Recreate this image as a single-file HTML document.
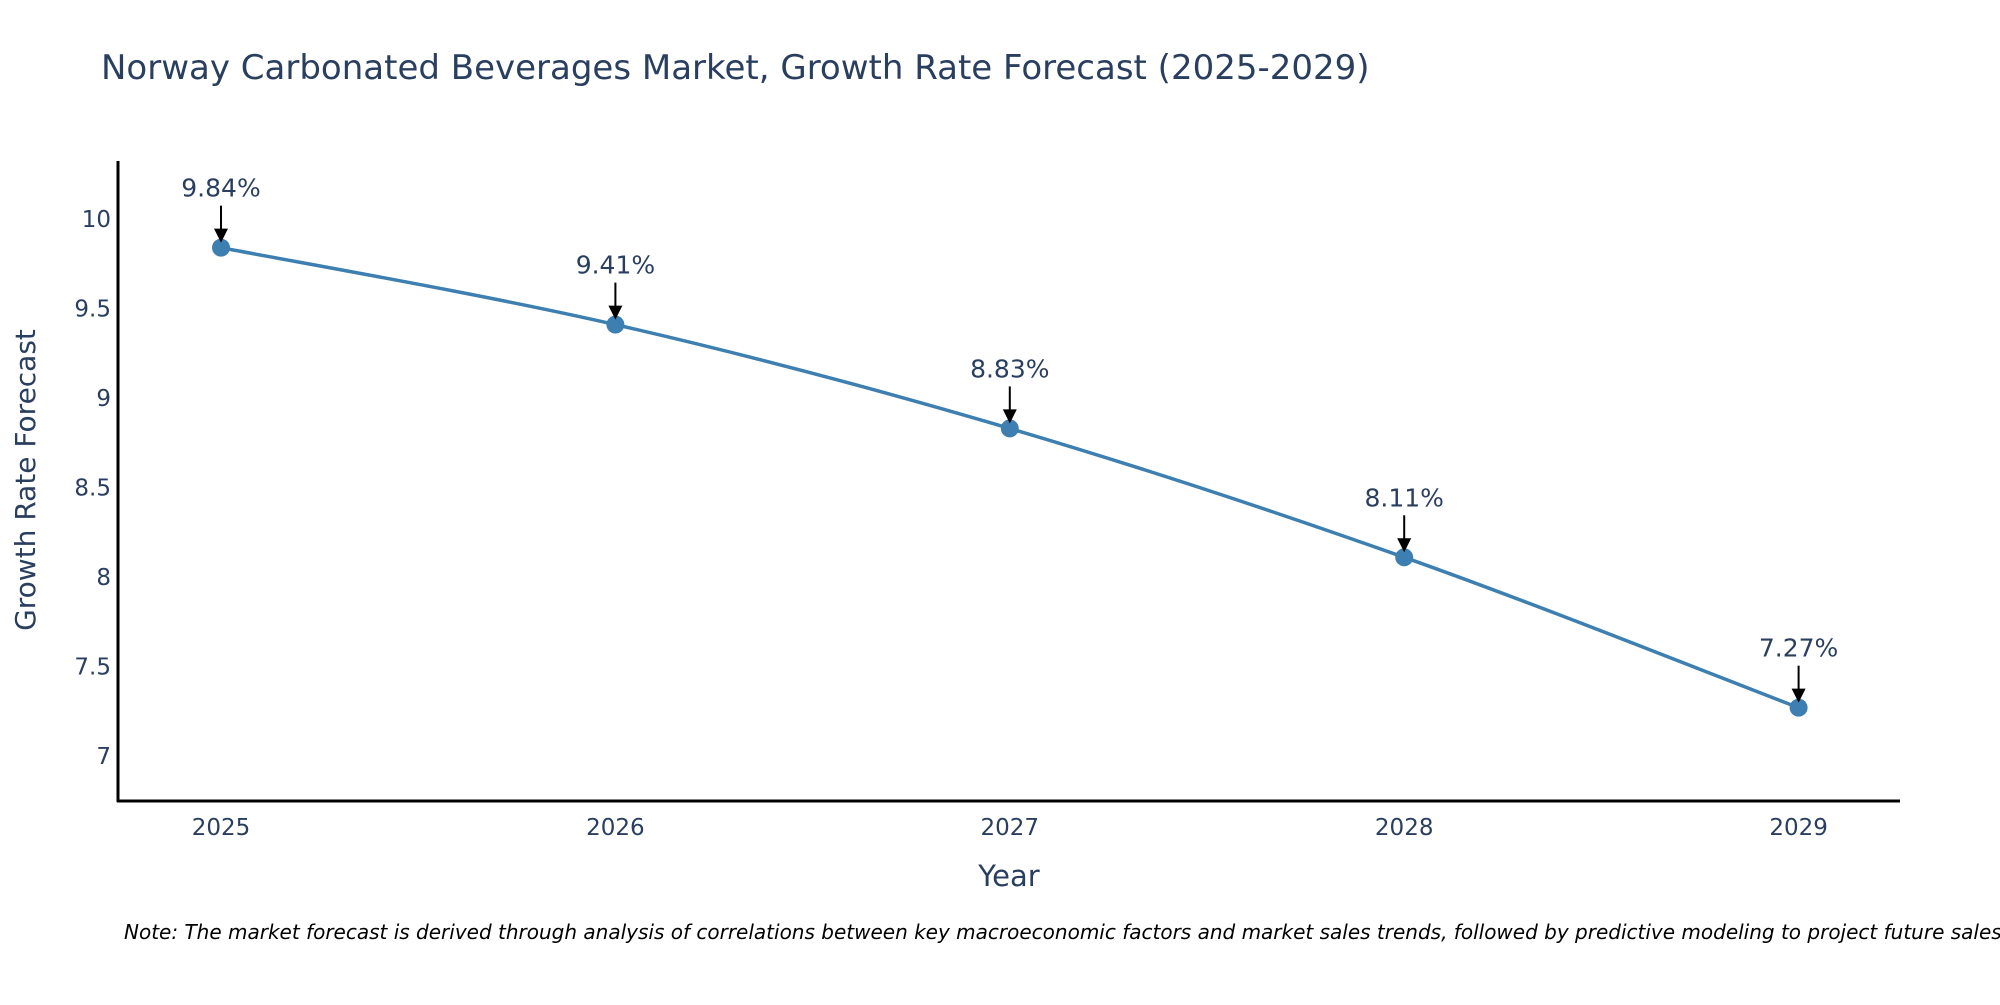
<!DOCTYPE html>
<html><head><meta charset="utf-8"><style>
body{margin:0;background:#fff;}
svg text{font-family:"DejaVu Sans","Liberation Sans",sans-serif;fill:#2a3f5f;}
</style></head><body>
<svg width="2000" height="1000" xmlns="http://www.w3.org/2000/svg">
<text x="101" y="79" font-size="34">Norway Carbonated Beverages Market, Growth Rate Forecast (2025-2029)</text>
<g id="plot"></g>
<text x="1009" y="886" font-size="29" text-anchor="middle">Year</text>
<text transform="translate(35,480) rotate(-90)" font-size="28" text-anchor="middle">Growth Rate Forecast</text>
<text x="124" y="939" font-size="20" font-style="italic" style="fill:#000">Note: The market forecast is derived through analysis of correlations between key macroeconomic factors and market sales trends, followed by predictive modeling to project future sales.</text>
</svg>
<script>
const years = [2025, 2026, 2027, 2028, 2029];
const values = [9.84, 9.41, 8.83, 8.11, 7.27];
const labels = ["9.84%", "9.41%", "8.83%", "8.11%", "7.27%"];
const yTicks = [7, 7.5, 8, 8.5, 9, 9.5, 10];

const NS = "http://www.w3.org/2000/svg";
const g = document.getElementById('plot');
const xs = v => 221 + (v - 2025) * 394.4;
const ys = v => 756 - (v - 7) * 179;
function mk(t, a) { const e = document.createElementNS(NS, t); for (const k in a) e.setAttribute(k, a[k]); g.appendChild(e); return e; }

let ax = mk('line', {x1:118, y1:161, x2:118, y2:802, stroke:'#000', 'stroke-width':3});


ax = mk('line', {x1:117, y1:801, x2:1900, y2:801, stroke:'#000', 'stroke-width':3});



yTicks.forEach(t => {
  const e = mk('text', {x:111, y:ys(t) + 8, 'font-size':23, 'text-anchor':'end'});
  e.textContent = String(t);
  
  
});
years.forEach(y => {
  const e = mk('text', {x:xs(y), y:835, 'font-size':23, 'text-anchor':'middle'});
  e.textContent = String(y);
  
  
});

const pts = years.map((y, i) => [xs(y), ys(values[i])]);
let d = 'M' + pts[0][0] + ',' + pts[0][1];
const s = 0.17;
for (let i = 0; i < pts.length - 1; i++) {
  const p0 = pts[Math.max(0, i - 1)], p1 = pts[i], p2 = pts[i + 1], p3 = pts[Math.min(pts.length - 1, i + 2)];
  const c1 = [p1[0] + (p2[0] - p0[0]) * s, p1[1] + (p2[1] - p0[1]) * s];
  const c2 = [p2[0] - (p3[0] - p1[0]) * s, p2[1] - (p3[1] - p1[1]) * s];
  d += ' C' + c1 + ' ' + c2 + ' ' + p2;
}
const line = mk('path', {d:d, fill:'none', stroke:'#3d7fb0', 'stroke-width':3.5});



pts.forEach((p, i) => {
  const c = mk('circle', {cx:p[0], cy:p[1], r:9, fill:'#3d7fb0'});
  
  
  const a = mk('line', {x1:p[0], y1:p[1] - 42, x2:p[0], y2:p[1] - 18, stroke:'#000', 'stroke-width':2});
  
  
  const h = mk('polygon', {points:(p[0]-7)+','+(p[1]-19)+' '+(p[0]+7)+','+(p[1]-19)+' '+p[0]+','+(p[1]-5), fill:'#000'});
  
  
  const t = mk('text', {x:p[0], y:p[1] - 51, 'font-size':25, 'text-anchor':'middle'});
  t.textContent = labels[i];
  
  
});
</script>
</body></html>
